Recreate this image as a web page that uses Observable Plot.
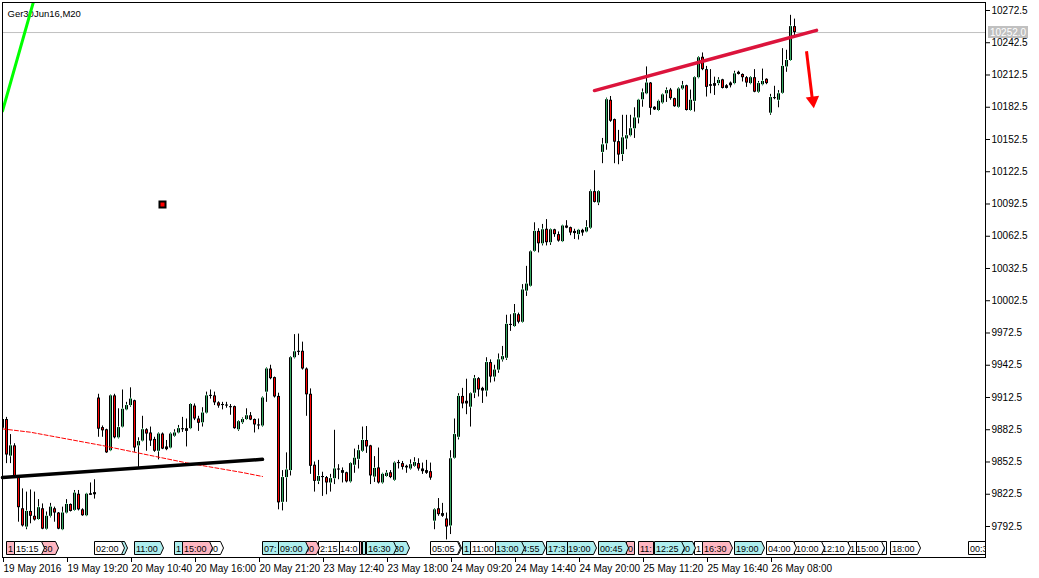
<!DOCTYPE html>
<html><head><meta charset="utf-8">
<script src="https://cdn.jsdelivr.net/npm/d3@7"></script>
<script src="https://cdn.jsdelivr.net/npm/@observablehq/plot@0.6"></script>
<style>html,body{margin:0;padding:0;background:#fff;}</style>
</head><body><div id="chart"></div>
<script>
// ---- Ger30Jun16, M20 candles (index 0 = 19 May 2016 14:00) ----
const openP = [
9884,9892,9858,9867.5,9838.5,9809,9792,9806.5,9802,9799,
9809,9790,9802,9809,9805,9789.5,9805,9813,9807.5,9822.5,
9808,9802.5,9821.5,9822,9912,9884.5,9882.5,9863,9914,9875,
9885,9901,9905,9909.5,9867.5,9872,9882.5,9879.5,9873.5,9862.5,
9878.5,9864,9865.5,9876.5,9879.5,9882.5,9881,9883.5,9904.5,9892.5,
9889,9898,9913.5,9914,9907.5,9905,9905.5,9904,9904,9882.5,
9889,9892,9895.5,9892,9887,9886,9917.5,9939,9931,9913.5,
9815,9838,9844.5,9949.5,9954.5,9955.5,9939,9915.5,9849.5,9834.5,
9838,9838,9833,9837,9845,9844.5,9842.5,9834,9849.5,9855,
9862.5,9872.5,9867.5,9838.5,9847,9833,9839,9842.5,9835.5,9851,
9851,9848.5,9846,9848.5,9851,9846,9842,9843.5,9797.5,9809,
9804.5,9799.5,9793,9856,9875.5,9913.5,9909,9903.5,9916.5,9930,
9921,9918.5,9945,9931.5,9938,9947.5,9949,9979.5,9978.5,9989.5,
9982.5,10011.5,10016,10048.5,10067,10055.5,10069,10056.5,10068.5,10064,
10057.5,10072,10070.5,10067,10064,10068,10066.5,10070,10104,10093.5,
10140.5,10148.5,10189,10171,10150.5,10138.5,10153,10156,10162.5,10172.5,
10189.5,10195,10205,10182.5,10179.5,10186.5,10195,10198.5,10190.5,10182.5,
10199.5,10202.5,10179.5,10188,10210,10229,10217.5,10203.5,10202,10204.5,
10208,10200,10202.5,10204.5,10215,10213,10210,10204.5,10210,10196.5,
10203.5,10208.5,10177,10190.5,10189,10195.5,10220,10226,10257.5];
const highP = [
9894,9894,9878,9869.5,9839,9827.5,9824.5,9826.5,9824.5,9817.5,
9813.5,9806,9814,9810.5,9805.5,9810.5,9817.5,9813.5,9826,9826,
9809,9823,9833,9836,9915.5,9886,9883,9914.5,9915.5,9902,
9919.5,9908,9921.5,9910,9875,9895,9883.5,9885,9875.5,9879.5,
9879.5,9872.5,9879.5,9882.5,9886.5,9894,9892.5,9906.5,9906.5,9895,
9903,9917.5,9919.5,9917.5,9908.5,9908,9908,9906,9904.5,9891,
9893.5,9902,9898.5,9892.5,9892.5,9913,9940,9942.5,9931.5,9916.5,
9844.5,9861,9950.5,9971,9971.5,9964,9940,9920.5,9852.5,9854,
9843,9839,9841,9882,9850,9847,9843,9851.5,9864.5,9868,
9885,9885.5,9868,9857.5,9865.5,9842,9844.5,9844.5,9852.5,9854,
9853,9849.5,9854.5,9856.5,9855.5,9851.5,9854,9851.5,9809,9818.5,
9814,9805,9863,9892.5,9916,9921,9929.5,9916.5,9933,9931,
9922,9949.5,9947.5,9942.5,9953,9960,9989,9989.5,9999,9991,
10017.5,10034.5,10048.5,10075,10069.5,10073.5,10078,10069,10069,10066.5,
10072.5,10077,10071,10069,10068.5,10069,10077,10105.5,10123.5,10105,
10153.5,10191,10192.5,10171.5,10161,10175,10175,10175,10182,10189.5,
10199.5,10220,10205.5,10183,10189,10194.5,10200.5,10200,10191,10200.5,
10206.5,10203,10198.5,10210.5,10229.5,10233,10220.5,10217.5,10210.5,10210,
10208.5,10203.5,10206,10216,10216,10213.5,10211,10211,10217.5,10206.5,
10218,10209,10194.5,10202,10198,10237,10235.5,10268,10264.5];
const lowP = [
9880,9851,9851,9838,9796.5,9792,9789.5,9795,9797.5,9798.5,
9789.5,9789.5,9800.5,9796.5,9789.5,9789,9804.5,9806,9807,9807,
9802,9802,9821.5,9818,9875.5,9875.5,9860.5,9862.5,9874,9874,
9884.5,9900.5,9903.5,9861.5,9847.5,9871.5,9862.5,9867,9861.5,9854.5,
9864,9863,9865,9875.5,9879,9880,9866.5,9883,9891,9881,
9885,9897.5,9911,9905,9902.5,9901,9902.5,9896,9883,9881,
9887.5,9891.5,9891,9879.5,9882.5,9885,9908,9929,9912,9808,
9807,9815,9839.5,9948.5,9951.5,9938,9895,9841,9824.5,9831.5,
9820.5,9822,9824.5,9831.5,9836,9833,9833,9833,9842,9846,
9861.5,9860.5,9831.5,9833.5,9832,9832,9838.5,9837,9834.5,9846,
9845,9842,9845,9847.5,9844,9841,9841,9835.5,9789.5,9802,
9801,9780,9785,9855.5,9873,9902,9896.5,9885,9911.5,9913,
9907,9913,9926,9927,9935,9945.5,9947,9974,9978,9981,
9982,10006.5,10016,10048,10047,10053.5,10053.5,10054,10061.5,10057,
10057,10069.5,10063,10059.5,10059,10062.5,10066,10069,10093.5,10091,
10130,10142.5,10168.5,10130,10129,10132,10143,10155,10153.5,10167,
10182.5,10194.5,10175,10179.5,10178.5,10185.5,10187,10189,10182.5,10182,
10198.5,10179,10179,10178,10209,10216.5,10192,10195,10193.5,10202.5,
10199.5,10199.5,10200.5,10203.5,10212.5,10206,10201,10203.5,10196,10195.5,
10202.5,10203.5,10175,10189.5,10182,10195,10215,10225.5,10249];
const closeP = [
9892,9859,9867.5,9838.5,9810,9793,9806.5,9802,9798.5,9810,
9790,9802,9810.5,9805,9790,9805,9813,9806.5,9823.5,9808,
9802.5,9822.5,9823,9824,9883,9881.5,9861,9914,9875,9884.5,
9901.5,9905,9911,9865.5,9871.5,9882.5,9878.5,9872,9862.5,9878.5,
9864.5,9866.5,9878.5,9879.5,9883.5,9883.5,9883.5,9906,9892.5,9888.5,
9898,9914,9914.5,9907.5,9904.5,9906,9904.5,9903,9883.5,9890,
9892,9895.5,9891.5,9887,9886,9912,9939,9930,9913,9814.5,
9838,9845,9949.5,9955,9955.5,9939,9915,9848.5,9834.5,9839,
9839,9833,9837,9846,9846,9842,9834,9851,9856,9863,
9872.5,9866.5,9839.5,9846.5,9833,9841,9842,9838,9851.5,9852,
9847.5,9847,9850,9852,9846,9843.5,9844.5,9837.5,9808,9803.5,
9802,9792,9855.5,9878,9913.5,9906.5,9906.5,9916,9930,9919.5,
9918.5,9945,9931.5,9938,9947.5,9950.5,9980.5,9980.5,9990.5,9982.5,
10012.5,10018,10048,10067,10055.5,10068.5,10056.5,10068.5,10064,10058,
10072,10070,10065.5,10065,10068,10065.5,10070.5,10104,10094,10104,
10147.5,10189.5,10169.5,10150,10138,10154,10156,10162.5,10172.5,10189,
10196,10205,10181.5,10180,10188,10194,10198,10190.5,10183,10199.5,
10202.5,10179.5,10189,10210,10228.5,10217.5,10201,10202,10204.5,10207.5,
10200,10202.5,10205,10213.5,10213,10210,10205,10210,10196.5,10204.5,
10206.5,10204.5,10191.5,10191.5,10195,10220.5,10226,10257.5,10252];

const lastPrice = 10252.0;
const yTicks = [10272.5,10242.5,10212.5,10182.5,10152.5,10122.5,10092.5,10062.5,10032.5,
  10002.5,9972.5,9942.5,9912.5,9882.5,9852.5,9822.5,9792.5];
const dateTickIdx = [0,16,32,48,64,80,96,112,128,144,160,176,192];
const dateLabels = ["19 May 2016","19 May 19:20","20 May 10:40","20 May 16:00","20 May 21:20",
  "23 May 12:40","23 May 18:00","24 May 09:20","24 May 14:40","24 May 20:00","25 May 11:20",
  "25 May 16:40","26 May 08:00"];

// trend objects (bar index, price)
const greenIdx = [0, 8], greenP = [10179, 10284];
const blackIdx = [0, 65], blackP = [9838, 9855];
const maIdx = [0, 7, 16, 25, 35, 46, 60, 65];
const maP = [9883.3, 9880.2, 9874, 9867.8, 9860.1, 9851.7, 9842.7, 9839];
const crimsonIdx = [148, 203.5], crimsonP = [10198, 10254];
const arrowIdx = [201, 202.4], arrowP = [10234.6, 10191.8];
const arrowHeadIdx = 202.6, arrowHeadP = 10188.8;
const squareIdx = 40, squareP = 10092;

// calendar events along the bottom
const eventIdx = [1,3,9,23,29.5,33,43,45,51,65,69,75,79,84,89,90,91,97.5,107,113,115,117,123,129.5,136,
  141,149,156,159,163,169,173,175,183,191,198,204.5,211.5,213,219,222,241.5];
const eventText = ["1","15:15",":30","02:00","","11:00","1","15:00","00","07:","09:00","00","2:15","14:0","","",
  "16:30","30","05:05","","1","11:00","13:00","4:55","17:3","19:00","00:45","0","11:","12:25","30","1","16:30",
  "19:00","04:00","10:00","12:10","1","15:00","0","18:00","00:3"];
const eventColor = ["p","w","p","w","c","c","c","p","w","c","c","p","w","w","p","c","c","c","w","w","c","w","c","c","c",
  "c","c","p","p","c","c","w","p","c","w","w","w","w","w","w","w","w"];
const eventCut = [1,0,0,0,0,0,1,0,0,1,0,0,1,1,1,1,0,0,0,0,1,1,0,0,1,0,0,1,1,0,0,1,0,0,0,0,0,1,0,1,0,1];

const FONT = "'Liberation Sans', Arial, sans-serif";
const BULL = "#35a862", BEAR = "#ff0000";
const boxFill = {p: "#ffb6c1", c: "#aeeeee", w: "#ffffff"};

const candles = openP.map((o, i) => ({i, o, h: highP[i], l: lowP[i], c: closeP[i]}));
const pts = (xs, ps) => xs.map((x, k) => ({i: x, p: ps[k]}));
const events = eventIdx.map((x, k) => ({i: x, t: eventText[k], col: eventColor[k], cut: !!eventCut[k]}));

const measure = (() => {
  const ctx = document.createElement("canvas").getContext("2d");
  return (txt, size) => { ctx.font = `${size}px 'Liberation Sans', Arial, sans-serif`; return ctx.measureText(txt).width; };
})();

// pentagon calendar labels, positioned with Plot's x scale
function calendarMark(index, scales, values, dimensions) {
  const {width, height, marginLeft, marginRight, marginTop, marginBottom} = dimensions;
  const bottom = height - marginBottom, right = width - marginRight;
  const g = d3.create("svg:g").attr("font-family", FONT).attr("font-size", 9).attr("text-anchor", "start");
  const cid = "calclip";
  g.append("clipPath").attr("id", cid).append("rect")
    .attr("x", marginLeft).attr("y", marginTop).attr("width", right - marginLeft).attr("height", bottom - marginTop);
  const inner = g.append("g").attr("clip-path", `url(#${cid})`);
  const order = events.map((e, k) => k).sort((a, b) => events[b].i - events[a].i);
  for (const k of order) {
    const ev = events[k];
    const x0 = Math.round(scales.x(ev.i));
    const w = ev.t ? Math.round(measure(ev.t, 9)) : 0;
    const r = w + 4;
    const gg = inner.append("g").attr("transform", `translate(${x0 + 0.5},${bottom + 0.5})`);
    gg.append("path")
      .attr("d", ev.cut ? `M0,-16H${r - 1}V-3H0Z` : `M0,-16H${r}L${r + 3},-9.5L${r},-3H0Z`)
      .attr("fill", boxFill[ev.col]).attr("stroke", "#000").attr("stroke-width", 1);
    if (ev.t) gg.append("text").attr("x", 1.5).attr("y", -5.5).attr("fill", "#000").attr("text-anchor", "start").text(ev.t);
  }
  return g.node();
}

// grey current-price tag on the price axis
function priceTagMark(index, scales, values, dimensions) {
  const right = dimensions.width - dimensions.marginRight;
  const y = Math.round(scales.y(lastPrice));
  const label = lastPrice.toFixed(1);
  const w = Math.round(measure(label, 10));
  const g = d3.create("svg:g").attr("font-family", FONT).attr("font-size", 10).attr("text-anchor", "start");
  g.append("rect").attr("x", right + 3).attr("y", y - 6).attr("width", w + 4).attr("height", 12).attr("fill", "#c0c0c0");
  g.append("text").attr("x", right + 5).attr("y", y + 4).attr("fill", "#ffffff").attr("text-anchor", "start").text(label);
  return g.node();
}

const chart = Plot.plot({
  width: 1039, height: 578,
  marginLeft: 2, marginRight: 54, marginTop: 2, marginBottom: 21,
  x: {domain: [0, 245.75], axis: null},
  y: {domain: [9763.66, 10279.94], axis: null},
  style: {fontFamily: FONT, fontSize: "10px", background: "#ffffff", color: "#000000"},
  marks: [
    Plot.ruleY([lastPrice], {stroke: "#c0c0c0", strokeWidth: 1}),
    Plot.text(["Ger30Jun16,M20"], {frameAnchor: "top-left", dx: 5, dy: 8, textAnchor: "start", fontSize: 9.5, fill: "#000"}),
    Plot.ruleX(candles, {x: "i", y1: "l", y2: "h", stroke: "#000", strokeWidth: 1, clip: true}),
    Plot.ruleX(candles, {x: "i", y1: "o", y2: "c", stroke: "#000", strokeWidth: 3, clip: true}),
    Plot.ruleX(candles, {filter: d => Math.abs(d.c - d.o) > 2.5, x: "i", y1: "o", y2: "c",
      stroke: d => d.c >= d.o ? BULL : BEAR, strokeWidth: 1, insetTop: 1, insetBottom: 1, clip: true}),
    Plot.line(pts(maIdx, maP), {x: "i", y: "p", stroke: "#ff0000", strokeWidth: 1, strokeDasharray: "4,2"}),
    Plot.line(pts(blackIdx, blackP), {x: "i", y: "p", stroke: "#000", strokeWidth: 3.5}),
    Plot.line(pts(greenIdx, greenP), {x: "i", y: "p", stroke: "#00ff00", strokeWidth: 3, clip: true}),
    Plot.line(pts(crimsonIdx, crimsonP), {x: "i", y: "p", stroke: "#dc143c", strokeWidth: 3.5}),
    Plot.link([{i1: arrowIdx[0], p1: arrowP[0], i2: arrowIdx[1], p2: arrowP[1]}],
      {x1: "i1", y1: "p1", x2: "i2", y2: "p2", stroke: "#ff0000", strokeWidth: 3}),
    Plot.dot([{i: arrowHeadIdx, p: arrowHeadP}], {x: "i", y: "p", symbol: "triangle", r: 5, fill: "#ff0000", rotate: 173}),
    Plot.dot([{i: squareIdx, p: squareP}], {x: "i", y: "p", symbol: "square", r: 3.4, fill: "#ff0000", stroke: "#000", strokeWidth: 2}),
    calendarMark,
    Plot.frame({stroke: "#000"}),
    Plot.axisY(yTicks, {anchor: "right", tickSize: 4, tickPadding: 2, tickFormat: d => d.toFixed(1), fontSize: 10, label: null, stroke: "#000", fill: "#000"}),
    Plot.axisX(dateTickIdx, {anchor: "bottom", tickSize: 5, tickPadding: 2, textAnchor: "start", dx: 1, fontSize: 10, label: null,
      tickFormat: d => dateLabels[dateTickIdx.indexOf(d)], stroke: "#000", fill: "#000"}),
    priceTagMark
  ]
});
document.getElementById("chart").appendChild(chart);
</script>
</body></html>
